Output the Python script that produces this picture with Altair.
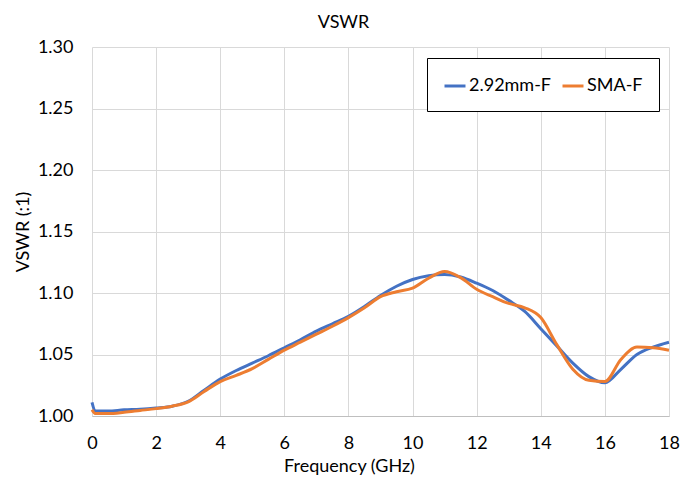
import altair as alt
import pandas as pd

freq = [0, 0.1, 0.5, 1, 1.5, 2, 2.5, 3, 3.5, 4, 4.5, 5, 5.5, 6, 6.5, 7, 7.5, 8, 8.5, 9,
        9.5, 10, 10.5, 11, 11.5, 12, 12.5, 13, 13.5, 14, 14.5, 15, 15.5, 16, 16.5, 17, 17.5, 18]
vswr_292 = [1.011, 1.004, 1.004, 1.005, 1.0055, 1.0065, 1.008, 1.012, 1.021, 1.030, 1.037, 1.043,
            1.049, 1.0555, 1.062, 1.069, 1.075, 1.081, 1.089, 1.098, 1.1055, 1.111, 1.114, 1.115,
            1.113, 1.108, 1.102, 1.094, 1.085, 1.071, 1.057, 1.043, 1.032, 1.027, 1.038, 1.050,
            1.056, 1.060]
vswr_sma = [1.005, 1.002, 1.002, 1.003, 1.0045, 1.006, 1.008, 1.0115, 1.020, 1.028, 1.033, 1.0385,
            1.046, 1.0535, 1.060, 1.0665, 1.073, 1.080, 1.088, 1.097, 1.101, 1.104, 1.112, 1.1175,
            1.1125, 1.103, 1.097, 1.0915, 1.088, 1.080, 1.058, 1.038, 1.029, 1.028, 1.046, 1.056,
            1.0555, 1.0535]
series = ["2.92mm-F", "SMA-F"]
colors = ["#4472C4", "#ED7D31"]

rows = []
for name, vals in zip(series, [vswr_292, vswr_sma]):
    for f, v in zip(freq, vals):
        rows.append({"Frequency": f, "VSWR": v, "Series": name})
df = pd.DataFrame(rows)

FONT = "Lato"
FS = 18

chart = alt.Chart(df).mark_line(strokeWidth=3, interpolate="monotone").encode(
    x=alt.X("Frequency:Q", title="Frequency (GHz)",
            scale=alt.Scale(domain=[0, 18], nice=False),
            axis=alt.Axis(values=list(range(0, 19, 2)), labelFontSize=FS, titleFontSize=FS,
                          labelPadding=18, titlePadding=5, ticks=False, labelFlush=False,
                          titleX=257, titleAlign="center",
                          domainColor="#bfbfbf", gridColor="#d9d9d9",
                          labelColor="black", titleColor="black", titleFontWeight="normal")),
    y=alt.Y("VSWR:Q", title="VSWR (:1)",
            scale=alt.Scale(domain=[1.0, 1.3], nice=False, zero=False),
            axis=alt.Axis(values=[1.0, 1.05, 1.1, 1.15, 1.2, 1.25, 1.3], format=".2f",
                          labelFontSize=FS, titleFontSize=FS, labelPadding=19,
                          titlePadding=5, ticks=False, domain=False, labelFlush=False,
                          gridColor="#d9d9d9", labelColor="black", titleColor="black",
                          titleFontWeight="normal")),
    color=alt.Color("Series:N", scale=alt.Scale(domain=series, range=colors),
                    legend=alt.Legend(title=None, orient="none", legendX=335, legendY=11,
                                      direction="horizontal", strokeColor="black",
                                      fillColor="white", padding=16, symbolType="stroke",
                                      symbolStrokeWidth=3, symbolSize=441, labelFontSize=FS,
                                      columnPadding=4, labelOffset=2, labelColor="black")),
).properties(
    width=577, height=369,
    title=alt.TitleParams("VSWR", fontSize=18, fontWeight="normal", font=FONT,
                          color="black", offset=6, dx=-37),
    autosize=alt.AutoSizeParams(type="none"),
    padding={"left": 84, "top": 39, "right": 19, "bottom": 60},
).configure(font=FONT).configure_view(stroke=None)

chart.save("out.html", embed_options={"renderer": "svg", "actions": False})
